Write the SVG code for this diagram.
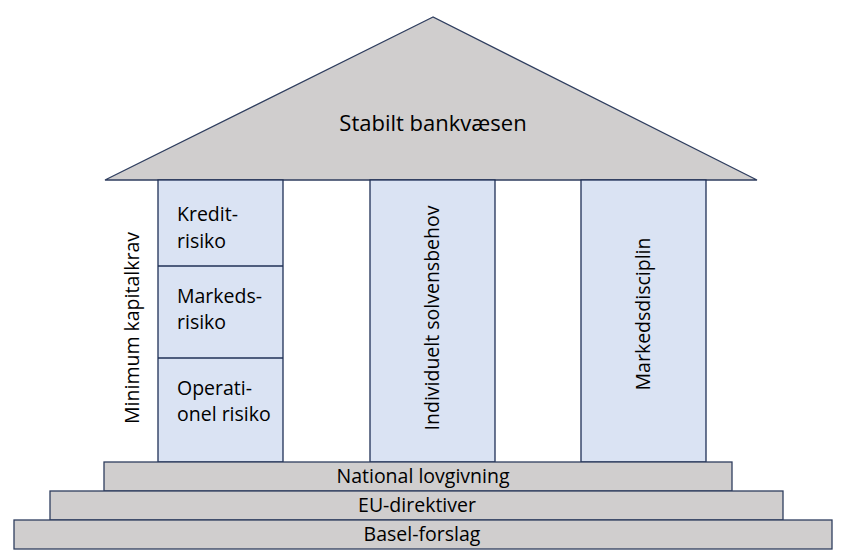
<svg xmlns="http://www.w3.org/2000/svg" width="852" height="555" viewBox="0 0 852 555">
<style>
.g{fill:#D0CECE;stroke:#2F3E5F;stroke-width:1.3}
.b{fill:#DAE3F3;stroke:#1F3056;stroke-width:1.3}
.t{font-family:"Open Sans",sans-serif;font-size:19.5px;fill:#000}
.m{text-anchor:middle}
</style>
<rect width="852" height="555" fill="#fff"/>
<g id="roof"><polygon class="g" points="433,17 105,180 757,180"/><text class="t m" x="433" y="131" style="font-size:22px">Stabilt bankvæsen</text></g>
<g id="pillar1">
<rect class="b" x="158" y="180" width="125" height="282"/>
<line class="b" x1="158" y1="266" x2="283" y2="266"/>
<line class="b" x1="158" y1="358" x2="283" y2="358"/>
<text class="t" x="177" y="221">Kredit-</text><text class="t" x="177" y="248">risiko</text>
<text class="t" x="177" y="303">Markeds-</text><text class="t" x="177" y="329">risiko</text>
<text class="t" x="177" y="395">Operati-</text><text class="t" x="177" y="421">onel risiko</text>
</g>
<g id="label-min"><text class="t m" transform="translate(139,328) rotate(-90)">Minimum kapitalkrav</text></g>
<g id="pillar2"><rect class="b" x="370" y="180" width="125" height="282"/><text class="t m" transform="translate(439,318) rotate(-90)">Individuelt solvensbehov</text></g>
<g id="pillar3"><rect class="b" x="581" y="180" width="125" height="282"/><text class="t m" transform="translate(650,314) rotate(-90)">Markedsdisciplin</text></g>
<g id="step1"><rect class="g" x="104" y="462" width="628" height="29"/><text class="t m" x="423" y="483">National lovgivning</text></g>
<g id="step2"><rect class="g" x="50" y="491" width="733" height="29"/><text class="t m" x="417" y="512">EU-direktiver</text></g>
<g id="step3"><rect class="g" x="14" y="520" width="818" height="29"/><text class="t m" x="422" y="541">Basel-forslag</text></g>
<g id="connectors"/>
</svg>
